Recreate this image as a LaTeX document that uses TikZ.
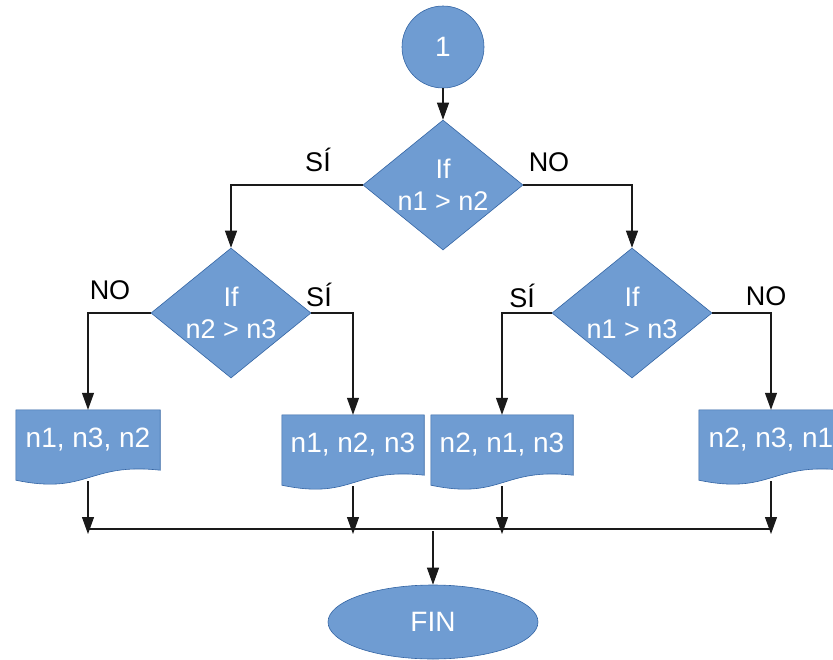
\documentclass[tikz,border=0pt]{standalone}
\usepackage{fontspec}
\setmainfont{Liberation Sans}
\usetikzlibrary{shapes.geometric,arrows.meta,calc,backgrounds}
\definecolor{boxfill}{HTML}{6F9CD2}
\definecolor{boxline}{HTML}{3465A4}
\definecolor{wire}{HTML}{1A1A1A}
\newcommand\docshape[1]{%
  \begin{scope}[on background layer]
    \path[fill=boxfill,draw=boxline,line width=0.6pt]
      (#1.north west) -- (#1.north east) -- (#1.south east)
      .. controls ($(#1.south)+(0,-8)$) and ($(#1.south)+(0,25)$) ..
      ($(#1.south west)+(0,10)$) -- cycle;
  \end{scope}}
\begin{document}
\begin{tikzpicture}[x=1pt,y=-1pt,
  shapebox/.style={fill=boxfill,draw=boxline,line width=0.6pt,text=white,
    font=\fontsize{28}{32}\selectfont},
  decision/.style={shapebox,diamond,inner sep=0pt,minimum width=160pt,
    minimum height=130pt,
    label={[text=white,align=center,font=\fontsize{27}{32}\selectfont]center:#1}},
  docnode/.style={inner sep=0pt,minimum width=144pt,minimum height=60pt,
    text=white,font=\fontsize{28}{32}\selectfont},
  arr/.style={draw=wire,line width=1.1pt,-{Triangle[length=17pt,width=12pt]}},
  wireline/.style={draw=wire,line width=1.1pt},
  lab/.style={font=\fontsize{27}{32}\selectfont,text=black}]
\path[use as bounding box] (0,0) rectangle (833,659);
\clip (0,0) rectangle (833,659);

% nodes
\node[shapebox,circle,minimum size=82pt,inner sep=0pt] (c1) at (443,47) {1};
\node[decision={If\\n1 > n2}] (dm1) at (443,185) {};
\node[decision={If\\n2 > n3}] (dm2) at (231,313) {};
\node[decision={If\\n1 > n3}] (dm3) at (632,313) {};

\node[docnode] (d1) at (88,440) {n1, n3, n2};
\docshape{d1}
\node[docnode,minimum width=142pt] (d2) at (353,445) {n1, n2, n3};
\docshape{d2}
\node[docnode,minimum width=142pt] (d3) at (502,445) {n2, n1, n3};
\docshape{d3}
\node[docnode] (d4) at (771,440) {n2, n3, n1};
\docshape{d4}

\node[shapebox,ellipse,minimum width=210pt,minimum height=74pt,inner sep=0pt] (fin) at (433,622) {FIN};

% labels
\node[lab] (ls1) at (318,160) {SÍ};
\node[lab] (ln1) at (549,162) {NO};
\node[lab] (ln2) at (110,290) {NO};
\node[lab] (ls2) at (319,295) {SÍ};
\node[lab] (ls3) at (522,296) {SÍ};
\node[lab] (ln3) at (766,296) {NO};

% junction coordinates
\coordinate (h1) at (88,529);
\coordinate (h4) at (771,529);
\coordinate (j1) at (88,534);
\coordinate (j2) at (353,534);
\coordinate (j3) at (502,534);
\coordinate (j4) at (771,534);
\coordinate (jm) at (433,531);

% connectors
\draw[arr] (c1.south) -- (dm1.north);
\draw[arr] (dm1.west) -| (dm2.north);
\draw[arr] (dm1.east) -| (dm3.north);
\draw[arr] (dm2.west) -| (d1.north);
\draw[arr] (dm2.east) -| (d2.north);
\draw[arr] (dm3.west) -| (d3.north);
\draw[arr] (dm3.east) -| (d4.north);

\draw[wireline] (h1) -- (h4);
\draw[arr] ($(d1.south)+(0,11)$) -- (j1);
\draw[arr] ($(d2.south)+(0,11)$) -- (j2);
\draw[arr] ($(d3.south)+(0,11)$) -- (j3);
\draw[arr] ($(d4.south)+(0,11)$) -- (j4);
\draw[arr] (jm) -- (fin.north);
\end{tikzpicture}
\end{document}
